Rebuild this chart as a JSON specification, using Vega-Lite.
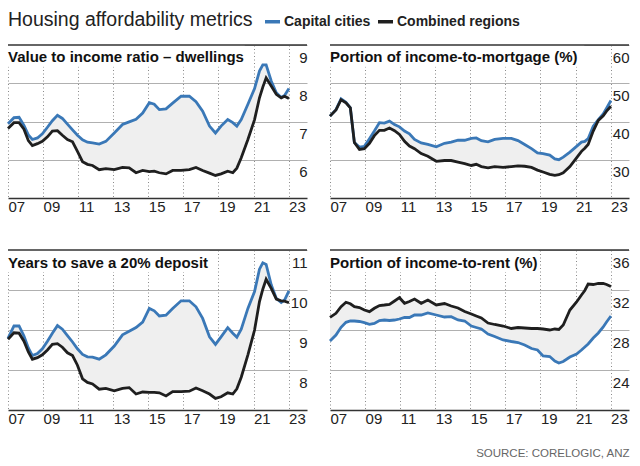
{
"$schema": "https://vega.github.io/schema/vega-lite/v6.json",
"padding": {"left": 2, "top": 12, "right": 10, "bottom": 4},
"datasets": {
"V": [
{"t":2007.00,"cap":6.94,"reg":6.82},{"t":2007.34,"cap":7.10,"reg":6.97},{"t":2007.63,"cap":7.11,"reg":6.97},{"t":2007.91,"cap":6.90,"reg":6.80},{"t":2008.16,"cap":6.65,"reg":6.50},{"t":2008.39,"cap":6.53,"reg":6.37},{"t":2008.68,"cap":6.57,"reg":6.42},{"t":2008.96,"cap":6.68,"reg":6.48},{"t":2009.25,"cap":6.85,"reg":6.60},{"t":2009.53,"cap":7.02,"reg":6.75},{"t":2009.82,"cap":7.16,"reg":6.76},{"t":2010.10,"cap":7.08,"reg":6.64},{"t":2010.39,"cap":6.93,"reg":6.53},{"t":2010.68,"cap":6.78,"reg":6.47},{"t":2010.96,"cap":6.64,"reg":6.22},{"t":2011.25,"cap":6.52,"reg":5.95},{"t":2011.53,"cap":6.46,"reg":5.88},{"t":2011.82,"cap":6.44,"reg":5.85},{"t":2012.20,"cap":6.41,"reg":5.74},{"t":2012.58,"cap":6.48,"reg":5.77},{"t":2013.06,"cap":6.70,"reg":5.74},{"t":2013.53,"cap":6.92,"reg":5.80},{"t":2013.91,"cap":6.99,"reg":5.79},{"t":2014.30,"cap":7.06,"reg":5.66},{"t":2014.68,"cap":7.22,"reg":5.72},{"t":2015.06,"cap":7.49,"reg":5.69},{"t":2015.34,"cap":7.45,"reg":5.70},{"t":2015.63,"cap":7.31,"reg":5.66},{"t":2016.01,"cap":7.33,"reg":5.63},{"t":2016.39,"cap":7.48,"reg":5.72},{"t":2016.87,"cap":7.66,"reg":5.72},{"t":2017.34,"cap":7.66,"reg":5.74},{"t":2017.72,"cap":7.52,"reg":5.80},{"t":2018.10,"cap":7.27,"reg":5.72},{"t":2018.49,"cap":6.88,"reg":5.65},{"t":2018.83,"cap":6.70,"reg":5.59},{"t":2019.15,"cap":6.88,"reg":5.63},{"t":2019.53,"cap":7.05,"reg":5.70},{"t":2019.82,"cap":6.97,"reg":5.66},{"t":2020.05,"cap":6.88,"reg":5.78},{"t":2020.30,"cap":7.05,"reg":6.05},{"t":2020.68,"cap":7.45,"reg":6.53},{"t":2021.06,"cap":7.86,"reg":7.05},{"t":2021.34,"cap":8.32,"reg":7.62},{"t":2021.53,"cap":8.48,"reg":7.90},{"t":2021.72,"cap":8.48,"reg":8.14},{"t":2022.01,"cap":8.06,"reg":7.93},{"t":2022.30,"cap":7.75,"reg":7.71},{"t":2022.58,"cap":7.63,"reg":7.62},{"t":2022.77,"cap":7.68,"reg":7.66},{"t":2023.02,"cap":7.86,"reg":7.60}
],
"M": [
{"t":2007.00,"cap":41.4,"reg":41.4},{"t":2007.34,"cap":43.1,"reg":43.0},{"t":2007.63,"cap":45.9,"reg":45.7},{"t":2007.91,"cap":45.0,"reg":44.9},{"t":2008.16,"cap":43.6,"reg":43.6},{"t":2008.39,"cap":34.5,"reg":34.5},{"t":2008.68,"cap":33.3,"reg":32.7},{"t":2008.96,"cap":33.5,"reg":32.9},{"t":2009.25,"cap":35.5,"reg":34.3},{"t":2009.53,"cap":37.5,"reg":36.3},{"t":2009.82,"cap":39.7,"reg":37.7},{"t":2010.10,"cap":39.6,"reg":37.7},{"t":2010.39,"cap":40.1,"reg":38.3},{"t":2010.68,"cap":39.2,"reg":37.6},{"t":2010.96,"cap":38.6,"reg":36.6},{"t":2011.25,"cap":37.5,"reg":34.8},{"t":2011.53,"cap":36.8,"reg":33.6},{"t":2011.82,"cap":35.3,"reg":32.9},{"t":2012.20,"cap":34.4,"reg":31.6},{"t":2012.58,"cap":34.0,"reg":30.9},{"t":2013.06,"cap":33.4,"reg":29.6},{"t":2013.53,"cap":34.3,"reg":29.8},{"t":2013.91,"cap":34.6,"reg":29.8},{"t":2014.30,"cap":35.1,"reg":29.4},{"t":2014.68,"cap":35.1,"reg":29.0},{"t":2015.06,"cap":35.6,"reg":28.5},{"t":2015.34,"cap":35.7,"reg":28.8},{"t":2015.63,"cap":35.0,"reg":28.2},{"t":2016.01,"cap":34.7,"reg":27.9},{"t":2016.39,"cap":35.3,"reg":28.2},{"t":2016.87,"cap":35.6,"reg":28.0},{"t":2017.34,"cap":35.6,"reg":28.2},{"t":2017.72,"cap":35.0,"reg":28.4},{"t":2018.10,"cap":34.0,"reg":28.3},{"t":2018.49,"cap":32.9,"reg":28.0},{"t":2018.83,"cap":31.8,"reg":27.3},{"t":2019.15,"cap":31.6,"reg":26.8},{"t":2019.53,"cap":31.2,"reg":26.2},{"t":2019.82,"cap":30.2,"reg":25.9},{"t":2020.05,"cap":30.0,"reg":26.1},{"t":2020.30,"cap":30.7,"reg":26.6},{"t":2020.68,"cap":32.0,"reg":28.2},{"t":2021.06,"cap":33.5,"reg":30.5},{"t":2021.34,"cap":34.6,"reg":32.2},{"t":2021.53,"cap":34.8,"reg":33.0},{"t":2021.72,"cap":35.5,"reg":34.0},{"t":2022.01,"cap":38.8,"reg":37.5},{"t":2022.30,"cap":40.5,"reg":40.3},{"t":2022.58,"cap":42.0,"reg":41.5},{"t":2022.77,"cap":43.5,"reg":42.7},{"t":2023.02,"cap":45.5,"reg":44.0}
],
"Y": [
{"t":2007.00,"cap":8.79,"reg":8.77},{"t":2007.34,"cap":9.10,"reg":8.93},{"t":2007.63,"cap":9.10,"reg":8.92},{"t":2007.91,"cap":8.85,"reg":8.72},{"t":2008.16,"cap":8.55,"reg":8.45},{"t":2008.39,"cap":8.36,"reg":8.27},{"t":2008.68,"cap":8.41,"reg":8.31},{"t":2008.96,"cap":8.53,"reg":8.38},{"t":2009.25,"cap":8.72,"reg":8.50},{"t":2009.53,"cap":8.92,"reg":8.64},{"t":2009.82,"cap":9.11,"reg":8.66},{"t":2010.10,"cap":9.02,"reg":8.57},{"t":2010.39,"cap":8.86,"reg":8.43},{"t":2010.68,"cap":8.70,"reg":8.36},{"t":2010.96,"cap":8.53,"reg":8.12},{"t":2011.25,"cap":8.39,"reg":7.78},{"t":2011.53,"cap":8.33,"reg":7.69},{"t":2011.82,"cap":8.32,"reg":7.65},{"t":2012.20,"cap":8.27,"reg":7.52},{"t":2012.58,"cap":8.38,"reg":7.54},{"t":2013.06,"cap":8.60,"reg":7.48},{"t":2013.53,"cap":8.88,"reg":7.54},{"t":2013.91,"cap":8.97,"reg":7.56},{"t":2014.30,"cap":9.06,"reg":7.40},{"t":2014.68,"cap":9.20,"reg":7.45},{"t":2015.06,"cap":9.54,"reg":7.44},{"t":2015.34,"cap":9.48,"reg":7.44},{"t":2015.63,"cap":9.35,"reg":7.43},{"t":2016.01,"cap":9.37,"reg":7.35},{"t":2016.39,"cap":9.54,"reg":7.46},{"t":2016.87,"cap":9.73,"reg":7.46},{"t":2017.34,"cap":9.73,"reg":7.47},{"t":2017.72,"cap":9.58,"reg":7.55},{"t":2018.10,"cap":9.29,"reg":7.48},{"t":2018.49,"cap":8.83,"reg":7.40},{"t":2018.83,"cap":8.64,"reg":7.29},{"t":2019.15,"cap":8.83,"reg":7.33},{"t":2019.53,"cap":9.06,"reg":7.43},{"t":2019.82,"cap":8.92,"reg":7.40},{"t":2020.05,"cap":8.82,"reg":7.53},{"t":2020.30,"cap":9.02,"reg":7.82},{"t":2020.68,"cap":9.54,"reg":8.38},{"t":2021.06,"cap":9.96,"reg":9.00},{"t":2021.34,"cap":10.52,"reg":9.71},{"t":2021.53,"cap":10.68,"reg":10.02},{"t":2021.72,"cap":10.64,"reg":10.27},{"t":2022.01,"cap":10.13,"reg":10.04},{"t":2022.30,"cap":9.79,"reg":9.77},{"t":2022.58,"cap":9.69,"reg":9.73},{"t":2022.77,"cap":9.75,"reg":9.72},{"t":2023.02,"cap":9.98,"reg":9.68}
],
"R": [
{"t":2007.00,"cap":26.9,"reg":29.27},{"t":2007.34,"cap":27.5,"reg":29.67},{"t":2007.63,"cap":28.27,"reg":30.33},{"t":2007.91,"cap":28.77,"reg":30.77},{"t":2008.16,"cap":28.9,"reg":30.62},{"t":2008.39,"cap":28.9,"reg":30.33},{"t":2008.68,"cap":28.85,"reg":30.25},{"t":2008.96,"cap":28.73,"reg":30.0},{"t":2009.25,"cap":28.57,"reg":29.83},{"t":2009.53,"cap":28.65,"reg":30.17},{"t":2009.82,"cap":28.95,"reg":30.45},{"t":2010.10,"cap":29.0,"reg":30.5},{"t":2010.39,"cap":28.95,"reg":30.57},{"t":2010.68,"cap":29.0,"reg":30.9},{"t":2010.96,"cap":29.1,"reg":31.23},{"t":2011.25,"cap":29.27,"reg":30.67},{"t":2011.53,"cap":29.25,"reg":30.85},{"t":2011.82,"cap":29.5,"reg":31.1},{"t":2012.20,"cap":29.5,"reg":30.67},{"t":2012.58,"cap":29.7,"reg":31.0},{"t":2013.06,"cap":29.5,"reg":30.5},{"t":2013.53,"cap":29.3,"reg":30.65},{"t":2013.91,"cap":29.33,"reg":30.4},{"t":2014.30,"cap":29.0,"reg":30.2},{"t":2014.68,"cap":28.9,"reg":29.85},{"t":2015.06,"cap":28.4,"reg":29.6},{"t":2015.34,"cap":28.25,"reg":29.4},{"t":2015.63,"cap":28.1,"reg":29.2},{"t":2016.01,"cap":27.6,"reg":28.7},{"t":2016.39,"cap":27.35,"reg":28.55},{"t":2016.87,"cap":27.0,"reg":28.4},{"t":2017.34,"cap":26.85,"reg":28.15},{"t":2017.72,"cap":26.75,"reg":28.25},{"t":2018.10,"cap":26.5,"reg":28.2},{"t":2018.49,"cap":26.15,"reg":28.15},{"t":2018.83,"cap":26.0,"reg":28.15},{"t":2019.15,"cap":25.4,"reg":28.1},{"t":2019.53,"cap":25.35,"reg":28.0},{"t":2019.82,"cap":24.9,"reg":28.1},{"t":2020.05,"cap":24.7,"reg":28.05},{"t":2020.30,"cap":24.85,"reg":28.5},{"t":2020.68,"cap":25.3,"reg":30.0},{"t":2021.06,"cap":25.6,"reg":30.8},{"t":2021.34,"cap":26.0,"reg":31.5},{"t":2021.53,"cap":26.3,"reg":31.95},{"t":2021.72,"cap":26.6,"reg":32.6},{"t":2022.01,"cap":27.2,"reg":32.55},{"t":2022.30,"cap":27.7,"reg":32.65},{"t":2022.58,"cap":28.3,"reg":32.65},{"t":2022.77,"cap":28.8,"reg":32.55},{"t":2023.02,"cap":29.4,"reg":32.35}
]
},
"vconcat": [
{"hconcat": [
{
"width": 299, "height": 153,
"layer": [
{"data": {"values": [{}]}, "mark": {"type": "rect", "fill": "white"}, "encoding": {"x": {"datum": 2007, "type": "quantitative", "axis": {"values": [2007,2009,2011,2013,2015,2017,2019,2021,2023], "labelExpr": "substring(toString(datum.value), 2)", "title": null}}, "x2": {"datum": 2020.5}, "y": {"datum": 8.43, "type": "quantitative", "axis": {"orient": "right", "values": [6,7,8,9], "title": null}}, "y2": {"datum": 9}}},
{"data": {"name": "V"}, "mark": {"type": "area", "color": "#efefef"}, "encoding": {"x": {"field": "t", "type": "quantitative", "scale": {"domain": [2007, 2024.05], "nice": false, "zero": false}, "axis": {"values": [2007,2009,2011,2013,2015,2017,2019,2021,2023], "labelExpr": "substring(toString(datum.value), 2)", "title": null}}, "y": {"field": "cap", "type": "quantitative", "scale": {"domain": [5, 9], "nice": false, "zero": false}, "axis": {"orient": "right", "values": [6,7,8,9], "title": null}}, "y2": {"field": "reg"}}},
{"data": {"values": [{}]}, "mark": {"type": "rule", "color": "#333", "strokeWidth": 1.5}, "encoding": {"y": {"datum": 9, "type": "quantitative", "axis": {"orient": "right", "values": [6,7,8,9], "title": null}}}},
{"data": {"values": [{}]}, "mark": {"type": "text", "text": "Value to income ratio – dwellings", "align": "left", "baseline": "alphabetic", "font": "Liberation Sans", "fontSize": 15, "fontWeight": "bold", "color": "#111"}, "encoding": {"x": {"datum": 2007, "type": "quantitative", "axis": {"values": [2007,2009,2011,2013,2015,2017,2019,2021,2023], "labelExpr": "substring(toString(datum.value), 2)", "title": null}}, "y": {"datum": 8.556, "type": "quantitative", "axis": {"orient": "right", "values": [6,7,8,9], "title": null}}}},
{"data": {"name": "V"}, "mark": {"type": "line", "strokeWidth": 2.8}, "encoding": {"x": {"field": "t", "type": "quantitative", "axis": {"values": [2007,2009,2011,2013,2015,2017,2019,2021,2023], "labelExpr": "substring(toString(datum.value), 2)", "title": null}}, "y": {"field": "cap", "type": "quantitative", "axis": {"orient": "right", "values": [6,7,8,9], "title": null}}, "color": {"datum": "Capital cities", "scale": {"domain": ["Capital cities", "Combined regions"], "range": ["#3a78b7", "#1f1f1f"]}, "legend": {"title": "Housing affordability metrics", "orient": "top", "direction": "horizontal", "titleOrient": "left", "titleFontSize": 19.5, "titleFontWeight": "normal", "titleColor": "#222", "titleLimit": 400, "titlePadding": 10, "symbolType": "stroke", "symbolStrokeWidth": 3.5, "symbolSize": 225, "labelFontSize": 14, "labelFontWeight": "bold", "labelColor": "#222", "labelOffset": 2, "columnPadding": 0, "offset": 14}}}},
{"data": {"name": "V"}, "mark": {"type": "line", "strokeWidth": 2.8}, "encoding": {"x": {"field": "t", "type": "quantitative", "axis": {"values": [2007,2009,2011,2013,2015,2017,2019,2021,2023], "labelExpr": "substring(toString(datum.value), 2)", "title": null}}, "y": {"field": "reg", "type": "quantitative", "axis": {"orient": "right", "values": [6,7,8,9], "title": null}}, "color": {"datum": "Combined regions"}}}
]
},
{
"width": 299, "height": 153,
"layer": [
{"data": {"values": [{}]}, "mark": {"type": "rect", "fill": "white"}, "encoding": {"x": {"datum": 2007, "type": "quantitative", "axis": {"values": [2007,2009,2011,2013,2015,2017,2019,2021,2023], "labelExpr": "substring(toString(datum.value), 2)", "title": null}}, "x2": {"datum": 2021.5}, "y": {"datum": 54.3, "type": "quantitative", "axis": {"orient": "right", "values": [30,40,50,60], "title": null}}, "y2": {"datum": 60}}},
{"data": {"name": "M"}, "mark": {"type": "area", "color": "#efefef"}, "encoding": {"x": {"field": "t", "type": "quantitative", "scale": {"domain": [2007, 2024.05], "nice": false, "zero": false}, "axis": {"values": [2007,2009,2011,2013,2015,2017,2019,2021,2023], "labelExpr": "substring(toString(datum.value), 2)", "title": null}}, "y": {"field": "cap", "type": "quantitative", "scale": {"domain": [20, 60], "nice": false, "zero": false}, "axis": {"orient": "right", "values": [30,40,50,60], "title": null}}, "y2": {"field": "reg"}}},
{"data": {"values": [{}]}, "mark": {"type": "rule", "color": "#333", "strokeWidth": 1.5}, "encoding": {"y": {"datum": 60, "type": "quantitative", "axis": {"orient": "right", "values": [30,40,50,60], "title": null}}}},
{"data": {"values": [{}]}, "mark": {"type": "text", "text": "Portion of income-to-mortgage (%)", "align": "left", "baseline": "alphabetic", "font": "Liberation Sans", "fontSize": 15, "fontWeight": "bold", "color": "#111"}, "encoding": {"x": {"datum": 2007, "type": "quantitative", "axis": {"values": [2007,2009,2011,2013,2015,2017,2019,2021,2023], "labelExpr": "substring(toString(datum.value), 2)", "title": null}}, "y": {"datum": 55.56, "type": "quantitative", "axis": {"orient": "right", "values": [30,40,50,60], "title": null}}}},
{"data": {"name": "M"}, "mark": {"type": "line", "strokeWidth": 2.8}, "encoding": {"x": {"field": "t", "type": "quantitative", "axis": {"values": [2007,2009,2011,2013,2015,2017,2019,2021,2023], "labelExpr": "substring(toString(datum.value), 2)", "title": null}}, "y": {"field": "cap", "type": "quantitative", "axis": {"orient": "right", "values": [30,40,50,60], "title": null}}, "color": {"datum": "Capital cities"}}},
{"data": {"name": "M"}, "mark": {"type": "line", "strokeWidth": 2.8}, "encoding": {"x": {"field": "t", "type": "quantitative", "axis": {"values": [2007,2009,2011,2013,2015,2017,2019,2021,2023], "labelExpr": "substring(toString(datum.value), 2)", "title": null}}, "y": {"field": "reg", "type": "quantitative", "axis": {"orient": "right", "values": [30,40,50,60], "title": null}}, "color": {"datum": "Combined regions"}}}
]
}
]},
{"hconcat": [
{
"width": 299, "height": 160,
"layer": [
{"data": {"values": [{}]}, "mark": {"type": "rect", "fill": "white"}, "encoding": {"x": {"datum": 2007, "type": "quantitative", "axis": {"values": [2007,2009,2011,2013,2015,2017,2019,2021,2023], "labelExpr": "substring(toString(datum.value), 2)", "title": null}}, "x2": {"datum": 2018.5}, "y": {"datum": 10.45, "type": "quantitative", "axis": {"orient": "right", "values": [8,9,10,11], "title": null}}, "y2": {"datum": 11}}},
{"data": {"name": "Y"}, "mark": {"type": "area", "color": "#efefef"}, "encoding": {"x": {"field": "t", "type": "quantitative", "scale": {"domain": [2007, 2024.05], "nice": false, "zero": false}, "axis": {"values": [2007,2009,2011,2013,2015,2017,2019,2021,2023], "labelExpr": "substring(toString(datum.value), 2)", "title": null}}, "y": {"field": "cap", "type": "quantitative", "scale": {"domain": [7, 11], "nice": false, "zero": false}, "axis": {"orient": "right", "values": [8,9,10,11], "title": null}}, "y2": {"field": "reg"}}},
{"data": {"values": [{}]}, "mark": {"type": "rule", "color": "#333", "strokeWidth": 1.5}, "encoding": {"y": {"datum": 11, "type": "quantitative", "axis": {"orient": "right", "values": [8,9,10,11], "title": null}}}},
{"data": {"values": [{}]}, "mark": {"type": "text", "text": "Years to save a 20% deposit", "align": "left", "baseline": "alphabetic", "font": "Liberation Sans", "fontSize": 15, "fontWeight": "bold", "color": "#111"}, "encoding": {"x": {"datum": 2007, "type": "quantitative", "axis": {"values": [2007,2009,2011,2013,2015,2017,2019,2021,2023], "labelExpr": "substring(toString(datum.value), 2)", "title": null}}, "y": {"datum": 10.56, "type": "quantitative", "axis": {"orient": "right", "values": [8,9,10,11], "title": null}}}},
{"data": {"name": "Y"}, "mark": {"type": "line", "strokeWidth": 2.8}, "encoding": {"x": {"field": "t", "type": "quantitative", "axis": {"values": [2007,2009,2011,2013,2015,2017,2019,2021,2023], "labelExpr": "substring(toString(datum.value), 2)", "title": null}}, "y": {"field": "cap", "type": "quantitative", "axis": {"orient": "right", "values": [8,9,10,11], "title": null}}, "color": {"datum": "Capital cities"}}},
{"data": {"name": "Y"}, "mark": {"type": "line", "strokeWidth": 2.8}, "encoding": {"x": {"field": "t", "type": "quantitative", "axis": {"values": [2007,2009,2011,2013,2015,2017,2019,2021,2023], "labelExpr": "substring(toString(datum.value), 2)", "title": null}}, "y": {"field": "reg", "type": "quantitative", "axis": {"orient": "right", "values": [8,9,10,11], "title": null}}, "color": {"datum": "Combined regions"}}}
]
},
{
"width": 299, "height": 160,
"layer": [
{"data": {"values": [{}]}, "mark": {"type": "rect", "fill": "white"}, "encoding": {"x": {"datum": 2007, "type": "quantitative", "axis": {"values": [2007,2009,2011,2013,2015,2017,2019,2021,2023], "labelExpr": "substring(toString(datum.value), 2)", "title": "SOURCE: CORELOGIC, ANZ"}}, "x2": {"datum": 2018.9}, "y": {"datum": 33.8, "type": "quantitative", "axis": {"orient": "right", "values": [24,28,32,36], "title": null}}, "y2": {"datum": 36}}},
{"data": {"name": "R"}, "mark": {"type": "area", "color": "#efefef"}, "encoding": {"x": {"field": "t", "type": "quantitative", "scale": {"domain": [2007, 2024.05], "nice": false, "zero": false}, "axis": {"values": [2007,2009,2011,2013,2015,2017,2019,2021,2023], "labelExpr": "substring(toString(datum.value), 2)", "title": "SOURCE: CORELOGIC, ANZ", "titleAnchor": "end", "titleFontSize": 11.5, "titleFontWeight": "normal", "titleColor": "#666", "titlePadding": 21}}, "y": {"field": "cap", "type": "quantitative", "scale": {"domain": [20, 36], "nice": false, "zero": false}, "axis": {"orient": "right", "values": [24,28,32,36], "title": null}}, "y2": {"field": "reg"}}},
{"data": {"values": [{}]}, "mark": {"type": "rule", "color": "#333", "strokeWidth": 1.5}, "encoding": {"y": {"datum": 36, "type": "quantitative", "axis": {"orient": "right", "values": [24,28,32,36], "title": null}}}},
{"data": {"values": [{}]}, "mark": {"type": "text", "text": "Portion of income-to-rent (%)", "align": "left", "baseline": "alphabetic", "font": "Liberation Sans", "fontSize": 15, "fontWeight": "bold", "color": "#111"}, "encoding": {"x": {"datum": 2007, "type": "quantitative", "axis": {"values": [2007,2009,2011,2013,2015,2017,2019,2021,2023], "labelExpr": "substring(toString(datum.value), 2)", "title": "SOURCE: CORELOGIC, ANZ"}}, "y": {"datum": 34.2, "type": "quantitative", "axis": {"orient": "right", "values": [24,28,32,36], "title": null}}}},
{"data": {"name": "R"}, "mark": {"type": "line", "strokeWidth": 2.8}, "encoding": {"x": {"field": "t", "type": "quantitative", "axis": {"values": [2007,2009,2011,2013,2015,2017,2019,2021,2023], "labelExpr": "substring(toString(datum.value), 2)", "title": "SOURCE: CORELOGIC, ANZ"}}, "y": {"field": "cap", "type": "quantitative", "axis": {"orient": "right", "values": [24,28,32,36], "title": null}}, "color": {"datum": "Capital cities"}}},
{"data": {"name": "R"}, "mark": {"type": "line", "strokeWidth": 2.8}, "encoding": {"x": {"field": "t", "type": "quantitative", "axis": {"values": [2007,2009,2011,2013,2015,2017,2019,2021,2023], "labelExpr": "substring(toString(datum.value), 2)", "title": "SOURCE: CORELOGIC, ANZ"}}, "y": {"field": "reg", "type": "quantitative", "axis": {"orient": "right", "values": [24,28,32,36], "title": null}}, "color": {"datum": "Combined regions"}}}
]
}
]}
],
"spacing": 35,
"config": {
"view": {"stroke": null},
"font": "Liberation Sans",
"concat": {"spacing": 16},
"axisX": {"ticks": false, "tickSize": 0, "grid": true, "domainColor": "#333", "domainWidth": 1.5, "gridColor": "#8a8a8a", "gridDash": [1, 2.5], "gridWidth": 1, "labelAlign": "left", "labelFontSize": 15, "labelColor": "#222", "labelPadding": 1, "labelFlush": false, "labelOverlap": false},
"axisY": {"ticks": false, "grid": true, "domain": false, "gridColor": "#b0b0b0", "gridWidth": 1, "labelAlign": "right", "labelBaseline": "top", "labelPadding": 0, "labelOffset": 5, "labelFontSize": 15, "labelColor": "#222"}
}
}
